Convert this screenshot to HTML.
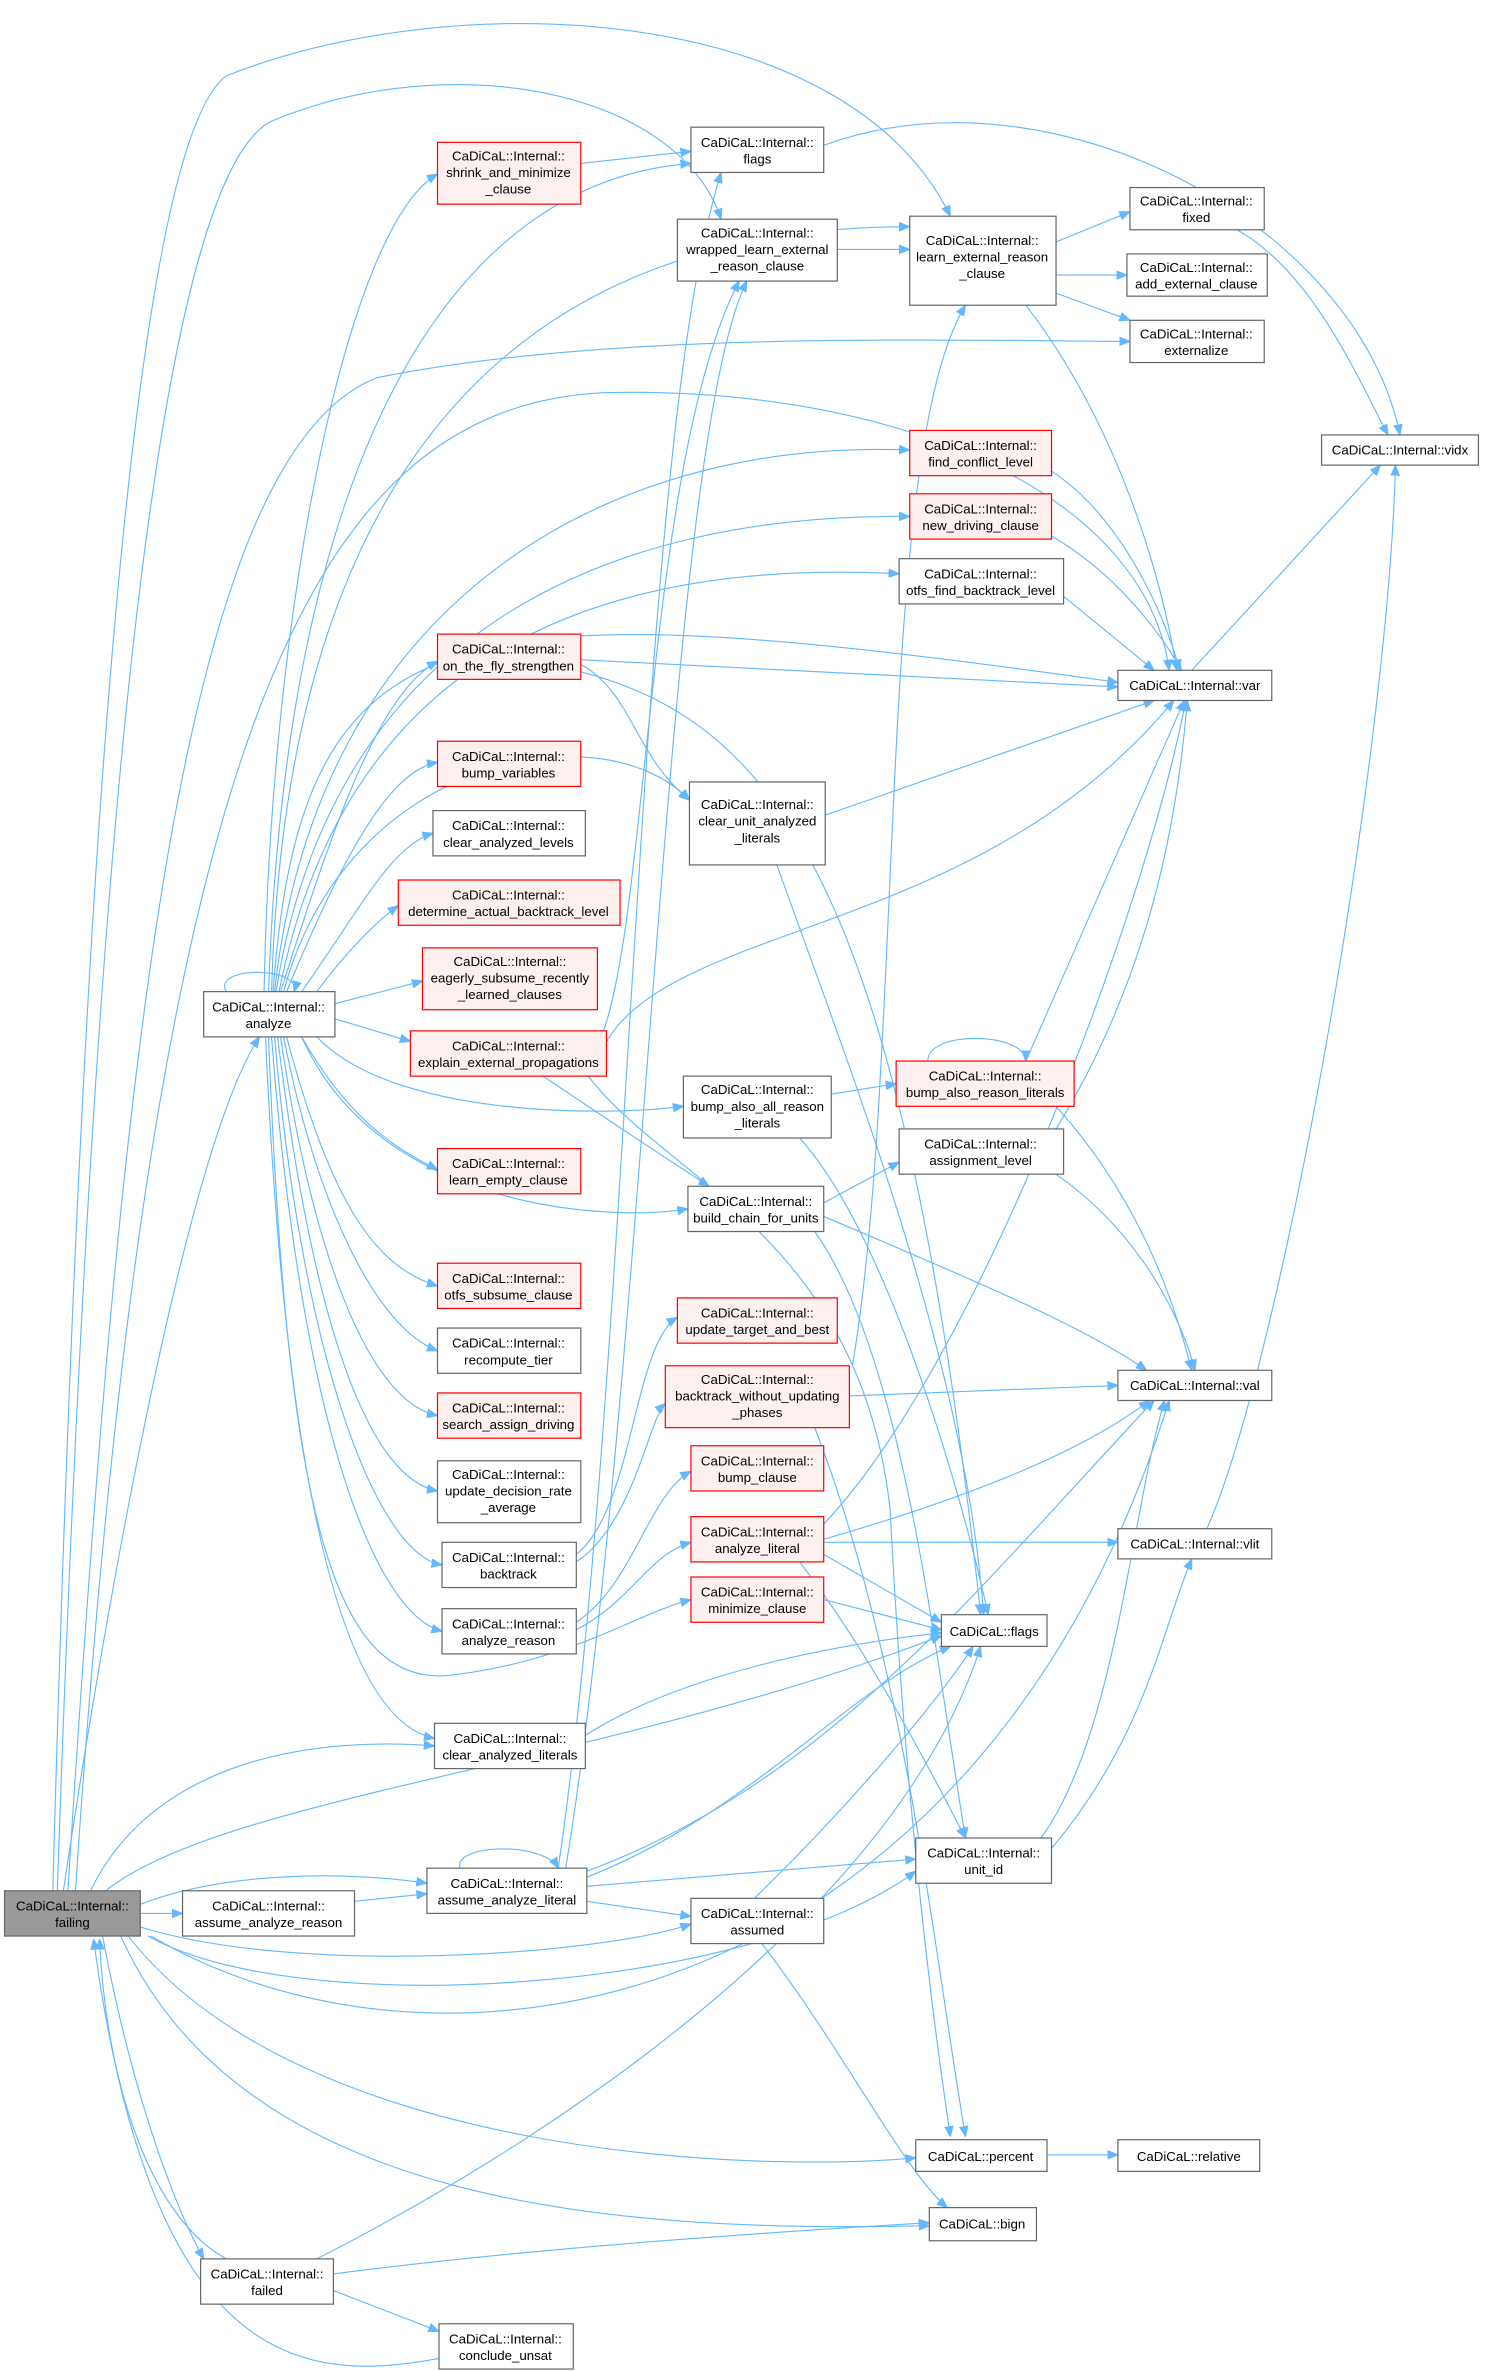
<!DOCTYPE html>
<html><head><meta charset="utf-8"><style>
html,body{margin:0;padding:0;background:#fff;}
svg{display:block;}
text{font-family:"Liberation Sans",Arial,sans-serif;font-size:8.8px;fill:#000;text-anchor:middle;}
.e{fill:none;stroke:#63b8ff;stroke-width:0.75;}
.n{fill:#fff;stroke:#666;stroke-width:0.8;}
.r{fill:#fff0f0;stroke:#ff0000;stroke-width:0.8;}
</style></head><body>
<svg width="1486" height="2371" viewBox="0 0 985 1571" xmlns="http://www.w3.org/2000/svg">
<defs><marker id="a" viewBox="0 0 10 10" refX="10" refY="5" markerWidth="7" markerHeight="7" markerUnits="userSpaceOnUse" orient="auto"><path d="M0,1 L10,5 L0,9z" fill="#63b8ff" stroke="#63b8ff"/></marker></defs>
<g class="e" marker-end="url(#a)">
<path d="M35,1253 C50,700 80,100 150,50 C300,-10 560,0 630,143"/>
<path d="M38,1253 C60,600 100,120 180,80 C300,30 450,60 478,145"/>
<path d="M45,1253 C80,700 120,300 250,250 C400,220 600,225 749,226"/>
<path d="M50,1253 C100,500 200,270 400,260 C600,255 760,330 775,444"/>
<path d="M42,1253 C80,1000 130,750 172,687"/>
<path d="M60,1253 C100,1170 200,1150 288,1157"/>
<path d="M70,1253 C150,1190 400,1170 624,1084"/>
<path d="M93,1262 C150,1240 230,1240 283,1248"/>
<path d="M93,1268 L121,1268"/>
<path d="M93,1277 C200,1310 400,1295 458,1275"/>
<path d="M98,1283 C200,1340 500,1320 607,1240"/>
<path d="M100,1283 C300,1400 650,1330 775,928"/>
<path d="M85,1283 C200,1430 500,1440 607,1430"/>
<path d="M80,1283 C160,1460 400,1480 616,1475"/>
<path d="M68,1283 C90,1400 120,1470 135,1497"/>
<path d="M150,1497 C100,1470 70,1380 66,1285"/>
<path d="M291,1563 C200,1580 100,1570 62,1285"/>
<path d="M221,1518 L291,1545"/>
<path d="M221,1507 C350,1490 500,1480 616,1473"/>
<path d="M210,1497 C400,1400 600,1250 650,1091"/>
<path d="M235,1260 L283,1255"/>
<path d="M305,1238 C300,1222 360,1220 370,1238"/>
<path d="M370,1238 C420,900 420,300 478,114"/>
<path d="M375,1238 C430,900 440,300 495,186"/>
<path d="M389,1244 C500,1200 560,1120 630,1091"/>
<path d="M389,1250 L607,1232"/>
<path d="M389,1260 L458,1270"/>
<path d="M389,1240 C550,1180 650,1050 765,928"/>
<path d="M500,1258 C560,1200 620,1130 645,1091"/>
<path d="M505,1288 C560,1360 600,1440 628,1463"/>
<path d="M690,1218 C740,1150 750,1000 772,928"/>
<path d="M697,1225 C760,1150 770,1080 790,1033"/>
<path d="M694,1428 L741,1428"/>
<path d="M800,1013 C850,900 920,500 925,308"/>
<path d="M790,444 L915,308"/>
<path d="M820,152 C870,180 900,250 920,288"/>
<path d="M546,96 C700,40 900,150 928,288"/>
<path d="M700,160 L749,140"/>
<path d="M700,182 L747,182"/>
<path d="M700,194 L749,212"/>
<path d="M680,202 C740,280 770,380 780,444"/>
<path d="M555,165 L603,165"/>
<path d="M385,108 L458,100"/>
<path d="M697,312 C740,340 770,400 782,444"/>
<path d="M697,355 C740,380 770,420 783,444"/>
<path d="M705,395 L765,444"/>
<path d="M385,437 L741,455"/>
<path d="M385,440 C420,460 420,500 457,530"/>
<path d="M385,445 C520,480 600,600 650,1070"/>
<path d="M547,540 L765,464"/>
<path d="M515,573 C560,700 640,900 652,1070"/>
<path d="M400,683 C430,600 430,300 490,186"/>
<path d="M402,690 C450,610 650,620 778,464"/>
<path d="M360,713 C400,740 430,760 470,786"/>
<path d="M390,713 C440,780 570,820 590,1000 C600,1200 620,1350 630,1416"/>
<path d="M551,725 L594,718"/>
<path d="M530,754 C590,820 640,1000 655,1070"/>
<path d="M615,703 C615,682 680,684 680,703"/>
<path d="M680,703 L785,464"/>
<path d="M700,733 C760,800 780,870 790,908"/>
<path d="M700,748 C760,650 780,550 787,464"/>
<path d="M700,778 C760,820 785,880 792,908"/>
<path d="M546,797 L596,770"/>
<path d="M546,806 C650,850 720,880 760,908"/>
<path d="M540,816 C600,900 620,1100 640,1218"/>
<path d="M565,905 C600,700 580,300 640,202"/>
<path d="M563,925 L741,918"/>
<path d="M540,946 C600,1100 620,1300 640,1416"/>
<path d="M546,1010 C650,900 760,600 786,464"/>
<path d="M546,1020 C650,990 720,960 762,928"/>
<path d="M546,1022 L741,1022"/>
<path d="M546,1030 L624,1075"/>
<path d="M530,1035 C580,1100 620,1180 640,1218"/>
<path d="M546,1060 L624,1080"/>
<path d="M388,1150 C450,1110 550,1090 624,1082"/>
<path d="M382,1030 C420,1000 420,890 449,873"/>
<path d="M382,1035 C420,1010 430,940 441,930"/>
<path d="M382,1075 C420,1050 430,990 458,975"/>
<path d="M382,1080 C420,1060 430,1030 458,1022"/>
<path d="M150,657 C140,640 200,640 195,657"/>
<path d="M175,657 C180,400 230,150 290,115"/>
<path d="M178,657 C190,300 300,120 458,108"/>
<path d="M180,657 C190,300 350,150 603,150"/>
<path d="M181,657 C200,400 300,390 741,452"/>
<path d="M182,657 C210,400 400,290 603,298"/>
<path d="M183,657 C220,420 400,340 603,342"/>
<path d="M185,657 C230,430 400,370 596,380"/>
<path d="M186,657 C220,550 250,460 290,438"/>
<path d="M188,657 C230,500 400,470 457,530"/>
<path d="M190,657 C230,560 260,510 290,505"/>
<path d="M200,657 C240,600 260,560 287,552"/>
<path d="M210,657 C230,630 250,610 264,600"/>
<path d="M222,665 L280,650"/>
<path d="M222,675 L272,690"/>
<path d="M210,687 C260,740 400,740 453,733"/>
<path d="M200,687 C250,800 400,810 456,801"/>
<path d="M200,687 C230,740 260,760 290,775"/>
<path d="M190,687 C220,800 250,840 290,852"/>
<path d="M188,687 C210,800 250,880 290,895"/>
<path d="M186,687 C210,850 250,930 290,938"/>
<path d="M184,687 C210,900 250,980 290,988"/>
<path d="M182,687 C200,900 250,1030 293,1037"/>
<path d="M180,687 C200,950 250,1070 293,1081"/>
<path d="M178,687 C190,1000 220,1120 300,1110 C380,1100 420,1070 458,1060"/>
<path d="M176,687 C190,1000 230,1140 288,1152"/>
</g>
<g>
<rect class="n" x="3" y="1253" width="90" height="30" style="fill:#999"/><text x="48" y="1266">CaDiCaL::Internal::</text><text x="48" y="1277">failing</text>
<rect class="n" x="121" y="1253" width="114" height="30"/><text x="178" y="1266">CaDiCaL::Internal::</text><text x="178" y="1277">assume_analyze_reason</text>
<rect class="n" x="283" y="1238" width="106" height="30"/><text x="336" y="1251">CaDiCaL::Internal::</text><text x="336" y="1262">assume_analyze_literal</text>
<rect class="n" x="133" y="1497" width="88" height="30"/><text x="177" y="1510">CaDiCaL::Internal::</text><text x="177" y="1521">failed</text>
<rect class="n" x="291" y="1540" width="89" height="30"/><text x="335" y="1553">CaDiCaL::Internal::</text><text x="335" y="1564">conclude_unsat</text>
<rect class="n" x="135" y="657" width="87" height="30"/><text x="178" y="670">CaDiCaL::Internal::</text><text x="178" y="681">analyze</text>
<rect class="r" x="290" y="94" width="95" height="41"/><text x="337" y="106">CaDiCaL::Internal::</text><text x="337" y="117">shrink_and_minimize</text><text x="337" y="128">_clause</text>
<rect class="n" x="458" y="84" width="88" height="30"/><text x="502" y="97">CaDiCaL::Internal::</text><text x="502" y="108">flags</text>
<rect class="n" x="449" y="145" width="106" height="41"/><text x="502" y="157">CaDiCaL::Internal::</text><text x="502" y="168">wrapped_learn_external</text><text x="502" y="179">_reason_clause</text>
<rect class="n" x="603" y="143" width="97" height="59"/><text x="651" y="162">CaDiCaL::Internal::</text><text x="651" y="173">learn_external_reason</text><text x="651" y="184">_clause</text>
<rect class="n" x="749" y="124" width="89" height="28"/><text x="793" y="136">CaDiCaL::Internal::</text><text x="793" y="147">fixed</text>
<rect class="n" x="747" y="168" width="93" height="28"/><text x="793" y="180">CaDiCaL::Internal::</text><text x="793" y="191">add_external_clause</text>
<rect class="n" x="749" y="212" width="89" height="28"/><text x="793" y="224">CaDiCaL::Internal::</text><text x="793" y="235">externalize</text>
<rect class="n" x="876" y="288" width="104" height="20"/><text x="928" y="301">CaDiCaL::Internal::vidx</text>
<rect class="r" x="603" y="285" width="94" height="30"/><text x="650" y="298">CaDiCaL::Internal::</text><text x="650" y="309">find_conflict_level</text>
<rect class="r" x="603" y="327" width="94" height="30"/><text x="650" y="340">CaDiCaL::Internal::</text><text x="650" y="351">new_driving_clause</text>
<rect class="n" x="596" y="370" width="109" height="30"/><text x="650" y="383">CaDiCaL::Internal::</text><text x="650" y="394">otfs_find_backtrack_level</text>
<rect class="n" x="741" y="444" width="102" height="20"/><text x="792" y="457">CaDiCaL::Internal::var</text>
<rect class="r" x="290" y="420" width="95" height="30"/><text x="337" y="433">CaDiCaL::Internal::</text><text x="337" y="444">on_the_fly_strengthen</text>
<rect class="r" x="290" y="491" width="95" height="30"/><text x="337" y="504">CaDiCaL::Internal::</text><text x="337" y="515">bump_variables</text>
<rect class="n" x="287" y="537" width="101" height="30"/><text x="337" y="550">CaDiCaL::Internal::</text><text x="337" y="561">clear_analyzed_levels</text>
<rect class="r" x="264" y="583" width="147" height="30"/><text x="337" y="596">CaDiCaL::Internal::</text><text x="337" y="607">determine_actual_backtrack_level</text>
<rect class="r" x="280" y="628" width="116" height="41"/><text x="338" y="640">CaDiCaL::Internal::</text><text x="338" y="651">eagerly_subsume_recently</text><text x="338" y="662">_learned_clauses</text>
<rect class="r" x="272" y="683" width="130" height="30"/><text x="337" y="696">CaDiCaL::Internal::</text><text x="337" y="707">explain_external_propagations</text>
<rect class="n" x="457" y="518" width="90" height="55"/><text x="502" y="536">CaDiCaL::Internal::</text><text x="502" y="547">clear_unit_analyzed</text><text x="502" y="558">_literals</text>
<rect class="n" x="453" y="713" width="98" height="41"/><text x="502" y="725">CaDiCaL::Internal::</text><text x="502" y="736">bump_also_all_reason</text><text x="502" y="747">_literals</text>
<rect class="r" x="594" y="703" width="118" height="30"/><text x="653" y="716">CaDiCaL::Internal::</text><text x="653" y="727">bump_also_reason_literals</text>
<rect class="n" x="596" y="748" width="109" height="30"/><text x="650" y="761">CaDiCaL::Internal::</text><text x="650" y="772">assignment_level</text>
<rect class="n" x="456" y="786" width="90" height="30"/><text x="501" y="799">CaDiCaL::Internal::</text><text x="501" y="810">build_chain_for_units</text>
<rect class="r" x="290" y="761" width="95" height="30"/><text x="337" y="774">CaDiCaL::Internal::</text><text x="337" y="785">learn_empty_clause</text>
<rect class="r" x="290" y="837" width="95" height="30"/><text x="337" y="850">CaDiCaL::Internal::</text><text x="337" y="861">otfs_subsume_clause</text>
<rect class="n" x="290" y="880" width="95" height="30"/><text x="337" y="893">CaDiCaL::Internal::</text><text x="337" y="904">recompute_tier</text>
<rect class="r" x="290" y="923" width="95" height="30"/><text x="337" y="936">CaDiCaL::Internal::</text><text x="337" y="947">search_assign_driving</text>
<rect class="n" x="290" y="968" width="95" height="41"/><text x="337" y="980">CaDiCaL::Internal::</text><text x="337" y="991">update_decision_rate</text><text x="337" y="1002">_average</text>
<rect class="n" x="293" y="1022" width="89" height="30"/><text x="337" y="1035">CaDiCaL::Internal::</text><text x="337" y="1046">backtrack</text>
<rect class="n" x="293" y="1066" width="89" height="30"/><text x="337" y="1079">CaDiCaL::Internal::</text><text x="337" y="1090">analyze_reason</text>
<rect class="n" x="288" y="1142" width="100" height="30"/><text x="338" y="1155">CaDiCaL::Internal::</text><text x="338" y="1166">clear_analyzed_literals</text>
<rect class="r" x="449" y="860" width="106" height="30"/><text x="502" y="873">CaDiCaL::Internal::</text><text x="502" y="884">update_target_and_best</text>
<rect class="r" x="441" y="905" width="122" height="41"/><text x="502" y="917">CaDiCaL::Internal::</text><text x="502" y="928">backtrack_without_updating</text><text x="502" y="939">_phases</text>
<rect class="r" x="458" y="958" width="88" height="30"/><text x="502" y="971">CaDiCaL::Internal::</text><text x="502" y="982">bump_clause</text>
<rect class="r" x="458" y="1005" width="88" height="30"/><text x="502" y="1018">CaDiCaL::Internal::</text><text x="502" y="1029">analyze_literal</text>
<rect class="r" x="458" y="1045" width="88" height="30"/><text x="502" y="1058">CaDiCaL::Internal::</text><text x="502" y="1069">minimize_clause</text>
<rect class="n" x="741" y="908" width="102" height="20"/><text x="792" y="921">CaDiCaL::Internal::val</text>
<rect class="n" x="741" y="1013" width="102" height="20"/><text x="792" y="1026">CaDiCaL::Internal::vlit</text>
<rect class="n" x="624" y="1070" width="70" height="21"/><text x="659" y="1084">CaDiCaL::flags</text>
<rect class="n" x="607" y="1218" width="90" height="30"/><text x="652" y="1231">CaDiCaL::Internal::</text><text x="652" y="1242">unit_id</text>
<rect class="n" x="458" y="1258" width="88" height="30"/><text x="502" y="1271">CaDiCaL::Internal::</text><text x="502" y="1282">assumed</text>
<rect class="n" x="607" y="1418" width="87" height="21"/><text x="650" y="1432">CaDiCaL::percent</text>
<rect class="n" x="741" y="1418" width="94" height="21"/><text x="788" y="1432">CaDiCaL::relative</text>
<rect class="n" x="616" y="1463" width="71" height="22"/><text x="651" y="1477">CaDiCaL::bign</text>
</g>
</svg>
</body></html>
